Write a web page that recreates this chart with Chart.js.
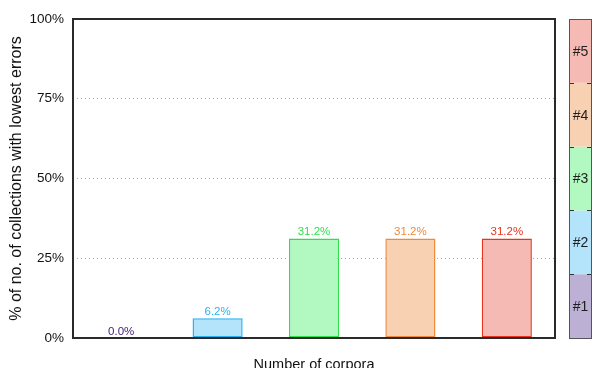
<!DOCTYPE html>
<html>
<head>
<meta charset="utf-8">
<script src="https://cdn.jsdelivr.net/npm/chart.js@4/dist/chart.umd.min.js"></script>
<style>
  html, body { margin: 0; padding: 0; background: #fff; }
  #wrap { width: 593px; height: 368px; }
</style>
</head>
<body>
<div id="wrap"><canvas id="c" width="593" height="368"></canvas></div>
<script>
// Number of corpora (categories) and the share of collections where each gives the lowest error
const corpora = ['#1', '#2', '#3', '#4', '#5'];
const shareLowest = [0.0, 6.2, 31.2, 31.2, 31.2];
const yTicks = [0, 25, 50, 75, 100];

// Palette per category: fill, outline, value-label text
const fills   = ['#bcb0d5', '#b3e4fb', '#b2f8c1', '#f7d1b1', '#f5bab4'];
const borders = ['#4a2a86', '#2ab2f2', '#2ee04a', '#ee8a3c', '#e7341f'];
const labelInk = ['#3d1c78', '#2ab2f2', '#2ee04a', '#ee8a3c', '#e7341f'];

const FONT = '"Liberation Sans", Arial, Helvetica, sans-serif';

// Frame round the plot area
const framePlugin = {
  id: 'frame',
  afterDatasetsDraw(chart) {
    const { ctx, chartArea: a } = chart;
    ctx.save();
    ctx.strokeStyle = '#2a2a2a';
    ctx.lineWidth = 2;
    ctx.strokeRect(a.left, a.top, a.right - a.left, a.bottom - a.top);
    ctx.restore();
  }
};

// Value labels above each bar
const valueLabels = {
  id: 'valueLabels',
  afterDraw(chart) {
    const { ctx } = chart;
    const meta = chart.getDatasetMeta(0);
    ctx.save();
    ctx.font = '11.5px ' + FONT;
    ctx.textAlign = 'center';
    ctx.textBaseline = 'alphabetic';
    meta.data.forEach((bar, i) => {
      ctx.fillStyle = labelInk[i];
      ctx.fillText(shareLowest[i].toFixed(1) + '%', bar.x, bar.y - 3);
    });
    ctx.restore();
  }
};

// Category colour key drawn as a stacked strip beside the plot
const colorKey = {
  id: 'colorKey',
  afterDraw(chart) {
    const { ctx, chartArea: a } = chart;
    const y = chart.scales.y;
    const x0 = a.right + 14, x1 = a.right + 37;
    const n = corpora.length;
    const span = (y.max - y.min) / n;
    ctx.save();
    for (let i = 0; i < n; i++) {
      const yb = y.getPixelForValue(y.min + i * span);
      const yt = y.getPixelForValue(y.min + (i + 1) * span);
      ctx.fillStyle = fills[i];
      ctx.fillRect(x0, yt, x1 - x0, yb - yt);
      ctx.fillStyle = '#1e1e1e';
      ctx.font = '14px ' + FONT;
      ctx.textAlign = 'center';
      ctx.textBaseline = 'middle';
      ctx.fillText(corpora[i], (x0 + x1) / 2, (yt + yb) / 2 + 1);
      if (i > 0) {
        ctx.strokeStyle = '#333';
        ctx.lineWidth = 1;
        ctx.beginPath();
        ctx.moveTo(x0, Math.round(yb) + 0.5); ctx.lineTo(x0 + 5, Math.round(yb) + 0.5);
        ctx.moveTo(x1 - 5, Math.round(yb) + 0.5); ctx.lineTo(x1, Math.round(yb) + 0.5);
        ctx.stroke();
      }
    }
    ctx.strokeStyle = '#555';
    ctx.lineWidth = 1;
    const top = y.getPixelForValue(y.max), bot = y.getPixelForValue(y.min);
    ctx.strokeRect(x0 + 0.5, Math.round(top) + 0.5, x1 - x0 - 1, Math.round(bot - top));
    ctx.restore();
  }
};

new Chart(document.getElementById('c'), {
  type: 'bar',
  data: {
    labels: corpora,
    datasets: [{
      data: shareLowest,
      backgroundColor: fills,
      borderColor: borders,
      borderWidth: 1.5,
      borderSkipped: false,
      barPercentage: 0.52,
      categoryPercentage: 1.0
    }]
  },
  options: {
    responsive: false,
    animation: false,
    devicePixelRatio: 1,
    layout: { padding: { top: 19, right: 38, left: 0, bottom: 0 } },
    plugins: { legend: { display: false }, tooltip: { enabled: false } },
    scales: {
      x: {
        grid: { display: false, drawTicks: false },
        border: { display: false },
        ticks: { display: false },
        title: {
          display: true,
          text: 'Number of corpora',
          color: '#111',
          font: { family: FONT, size: 14.5 },
          padding: { top: 0, bottom: -5.5 }
        },
        afterFit(scale) { scale.height = 30; }
      },
      y: {
        min: 0,
        max: 100,
        afterBuildTicks(scale) { scale.ticks = yTicks.map(v => ({ value: v })); },
        ticks: {
          padding: 9,
          color: '#111',
          font: { family: FONT, size: 13.5 },
          callback: v => v + '%'
        },
        grid: {
          drawTicks: false,
          color: ctx => (ctx.tick && ctx.tick.value > 0 && ctx.tick.value < 100) ? '#a8a8a8' : 'rgba(0,0,0,0)',
          lineWidth: 1
        },
        border: { display: false, dash: [1, 3] },
        title: {
          display: true,
          text: '% of no. of collections with lowest errors',
          color: '#111',
          font: { family: FONT, size: 16 },
          padding: { top: 7, bottom: 0 }
        },
        afterFit(scale) { scale.width = 73; }
      }
    }
  },
  plugins: [framePlugin, valueLabels, colorKey]
});
</script>
</body>
</html>
